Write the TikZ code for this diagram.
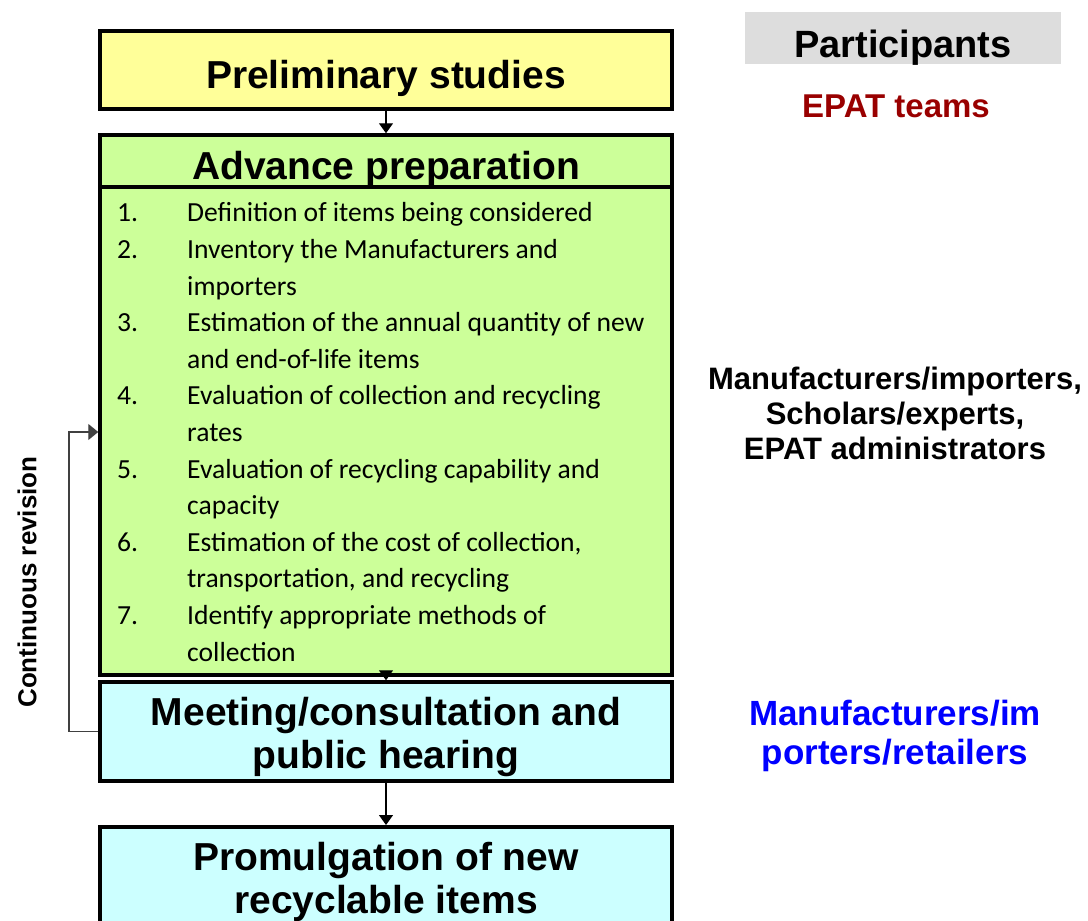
\documentclass[tikz,border=0pt]{standalone}
\usepackage{fontspec}
\setmainfont{Liberation Sans}
\newfontfamily\listfont{Carlito}
\usepackage{array}
\usetikzlibrary{arrows.meta,positioning}

\definecolor{prelimfill}{HTML}{FFFF99}
\definecolor{advfill}{HTML}{CCFF99}
\definecolor{meetfill}{HTML}{CCFFFF}
\definecolor{headfill}{HTML}{DDDDDD}
\definecolor{epatred}{HTML}{990000}
\definecolor{meetblue}{HTML}{0000FF}

\begin{document}
\begin{tikzpicture}[x=1pt, y=-1pt,
		stage/.style={draw, line width=3.5pt, minimum width=572pt, inner sep=0pt, align=center, text height=36pt, text depth=0pt, font=\bfseries\fontsize{39}{43}\selectfont},
		twolines/.style={text height=73pt},
		flow/.style={-{Triangle[length=10pt,width=14pt]}, line width=1.3pt},
		who/.style={align=center, font=\bfseries\fontsize{31}{35}\selectfont}]
	\useasboundingbox (0,0) rectangle (1088,921);

		% the stages down the left
		\node[stage, fill=prelimfill, minimum height=78pt] (prelim) at (386,70) {Preliminary studies};
		\node[stage, fill=advfill, minimum height=52pt] (advhead) at (386,161) {Advance preparation};
		\node[stage, fill=advfill, minimum height=488pt] (advbody) at (386,431) {};
		\node[stage, twolines, fill=meetfill, minimum height=99pt] (meet) at (386,731.5) {Meeting/consultation and\\public hearing};
		\node[stage, twolines, fill=meetfill, minimum height=100pt, anchor=north] (prom) at (386,825) {Promulgation of new\\recyclable items};

		% what the preparation covers
		\node[anchor=north west, inner sep=0pt, font=\listfont\fontsize{27.6}{36.6}\selectfont] (items) at (117,196) {%
			\begin{tabular}{@{}p{70pt}@{}l@{}}
			1. & Definition of items being considered\\
			2. & Inventory the Manufacturers and\\
			   & importers\\
			3. & Estimation of the annual quantity of new\\
			   & and end-of-life items\\
			4. & Evaluation of collection and recycling\\
			   & rates\\
			5. & Evaluation of recycling capability and\\
			   & capacity\\
			6. & Estimation of the cost of collection,\\
			   & transportation, and recycling\\
			7. & Identify appropriate methods of\\
			   & collection
			\end{tabular}};

		\draw[flow] (prelim) -- (advhead);
		\draw[flow] (advbody) -- (meet);
		\draw[flow] (meet) -- (prom);

		% feedback from the hearing
		\coordinate (back) at (69,432);
		\draw[-{Triangle[length=10pt,width=16pt]}, line width=1.3pt, draw=black!75] (meet.west) -| (back) -- (advbody.west |- back);
		\node[rotate=90, font=\bfseries\fontsize{26}{30}\selectfont] (revision) at (27,582) {Continuous revision};

		% who takes part
		\node[fill=headfill, minimum width=316pt, minimum height=52pt, inner sep=0pt, text height=38pt, text depth=0pt, font=\bfseries\fontsize{38}{42}\selectfont] (partic) at (903,38) {Participants};
		\node[who, text=epatred, font=\bfseries\fontsize{33}{37}\selectfont] (epat) at (896,106) {EPAT teams};
		\node[who] (experts) at (895,413) {Manufacturers/importers,\\Scholars/experts,\\EPAT administrators};
		\node[who, text=meetblue, text height=68pt, text depth=0pt, font=\bfseries\fontsize{35}{39}\selectfont] (makers) at (895,730) {Manufacturers/im\\porters/retailers};

	\end{tikzpicture}
\end{document}
